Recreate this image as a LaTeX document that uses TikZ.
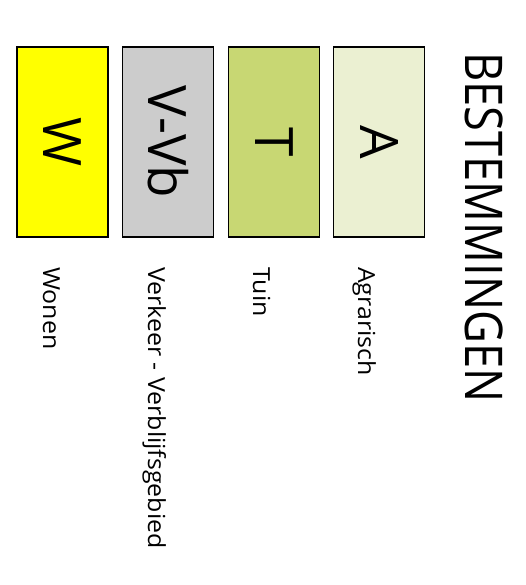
\documentclass[tikz,border=0pt]{standalone}
\usepackage{fontspec}
\setmainfont{Open Sans}
\newfontfamily\titlefont[FakeStretch=0.87]{Open Sans}
\newfontfamily\labelfont[FakeStretch=1.06]{Open Sans}
\definecolor{wonen}{HTML}{FFFF00}
\definecolor{verkeer}{HTML}{CCCCCC}
\definecolor{tuin}{HTML}{C8D773}
\definecolor{agrarisch}{HTML}{EBF0D2}
\tikzset{
  legbox/.style={draw=black, line width=1.8pt, rotate=-90, minimum width=190pt,
    minimum height=91pt, inner sep=0pt, font=\fontsize{53}{53}\selectfont},
  leglabel/.style={rotate=-90, anchor=base west, inner sep=0pt,
    font=\labelfont\fontsize{23.5}{23.5}\selectfont}
}
\begin{document}
\begin{tikzpicture}[x=1pt, y=-1pt]
  \useasboundingbox (0,0) rectangle (526,585);

  % Title
  \node[rotate=-90, anchor=base west, inner sep=0pt,
    font=\titlefont\fontsize{52}{52}\selectfont] (title) at (465,52) {BESTEMMINGEN};

  % Boxes
  \node[legbox, fill=wonen] (W) at (62.5,142) {W};
  \node[legbox, fill=verkeer] (V) at (168,142) {V-Vb};
  \node[legbox, fill=tuin] (T) at (274,142) {T};
  \node[legbox, fill=agrarisch] (A) at (379,142) {A};

  % Labels
  \node[leglabel] (Wl) at (43,267) {Wonen};
  \node[leglabel] (Vl) at (148,267) {Verkeer - Verblijfsgebied};
  \node[leglabel] (Tl) at (253,267) {Tuin};
  \node[leglabel] (Al) at (358,267) {Agrarisch};
\end{tikzpicture}
\end{document}
